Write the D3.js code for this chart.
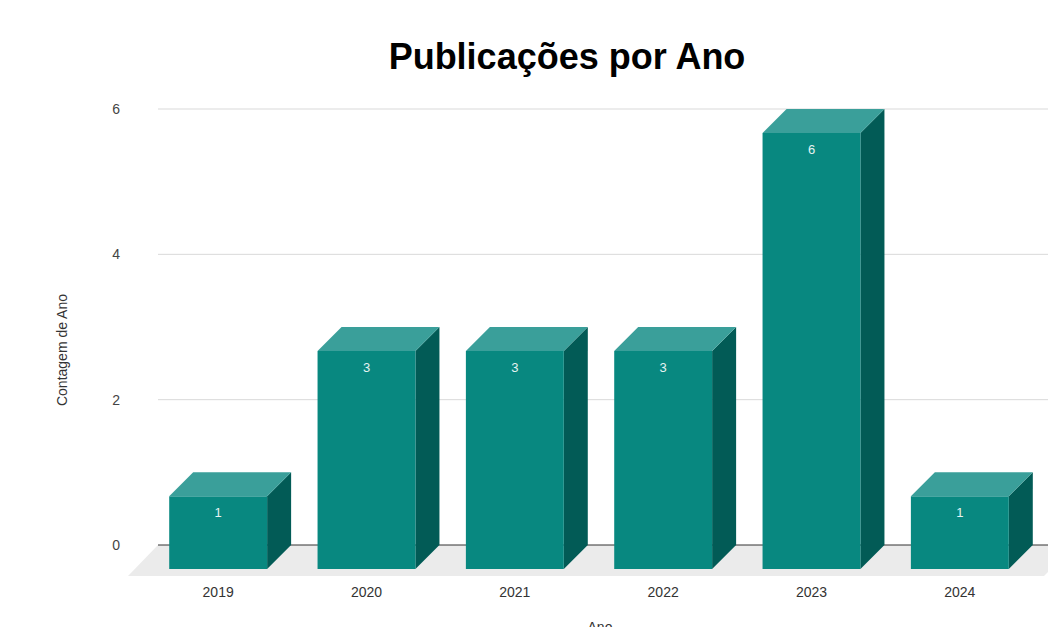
<!DOCTYPE html>
<html>
<head>
<meta charset="utf-8">
<script src="https://cdn.jsdelivr.net/npm/d3@7"></script>
<style>
  body { margin: 0; background: #fff; }
  #vis { width: 1048px; height: 627px; overflow: hidden; }
  text { font-family: "Liberation Sans", Arial, sans-serif; }
</style>
</head>
<body>
<div id="vis"></div>
<script>
const years = ['2019', '2020', '2021', '2022', '2023', '2024'];
const counts = [1, 3, 3, 3, 6, 1];
const yTicks = [0, 2, 4, 6];

////////////////////////////////////////
////////////// Setup ///////////////////
////////////////////////////////////////

const width = 1048, height = 627;
const depth = 24; // 3d offset for bar side / top

const svg = d3.select('#vis').append('svg')
    .attr('width', width)
    .attr('height', height);

const x = d3.scaleBand()
    .domain(years)
    .range([144, 1034])
    .paddingInner(0.34)
    .paddingOuter(0.17);

// front face scale
const y = d3.scaleLinear()
    .domain([0, 6])
    .range([569, 133]);

const colors = { front: '#088880', top: '#3a9f9a', side: '#025b56' };

////////////////////////////////////////
////////////// Back plane //////////////
////////////////////////////////////////

// floor
svg.append('path')
    .attr('d', `M158,${y(0) - depth} L1075,${y(0) - depth} L1044,${y(0) + 7} L128,${y(0) + 7} Z`)
    .attr('fill', '#ebebeb');

svg.selectAll('.grid')
    .data(yTicks.filter(d => d > 0))
    .join('line')
    .attr('class', 'grid')
    .attr('x1', 158)
    .attr('x2', width)
    .attr('y1', d => y(d) - depth)
    .attr('y2', d => y(d) - depth)
    .attr('stroke', '#d9d9d9')
    .attr('stroke-width', 1);

svg.append('line')
    .attr('x1', 158)
    .attr('x2', width)
    .attr('y1', y(0) - depth)
    .attr('y2', y(0) - depth)
    .attr('stroke', '#333')
    .attr('stroke-width', 1);

svg.selectAll('.ytick')
    .data(yTicks)
    .join('text')
    .attr('class', 'ytick')
    .attr('x', 120)
    .attr('y', d => y(d) - depth + 5)
    .attr('text-anchor', 'end')
    .attr('font-size', 14)
    .attr('fill', '#444')
    .text(d => d);

////////////////////////////////////////
////////////// Bars ////////////////////
////////////////////////////////////////

const bars = svg.selectAll('.bar')
    .data(years.map((yr, i) => ({ year: yr, value: counts[i] })))
    .join('g')
    .attr('class', 'bar');

bars.append('path') // side
    .attr('d', d => {
        const x1 = x(d.year) + x.bandwidth();
        return `M${x1},${y(d.value)} L${x1 + depth},${y(d.value) - depth} L${x1 + depth},${y(0) - depth} L${x1},${y(0)} Z`;
    })
    .attr('fill', colors.side);

bars.append('path') // top
    .attr('d', d => {
        const x0 = x(d.year), x1 = x0 + x.bandwidth(), t = y(d.value);
        return `M${x0},${t} L${x0 + depth},${t - depth} L${x1 + depth},${t - depth} L${x1},${t} Z`;
    })
    .attr('fill', colors.top);

bars.append('rect') // front
    .attr('x', d => x(d.year))
    .attr('y', d => y(d.value))
    .attr('width', x.bandwidth())
    .attr('height', d => y(0) - y(d.value))
    .attr('fill', colors.front);

bars.append('text')
    .attr('x', d => x(d.year) + x.bandwidth() / 2)
    .attr('y', d => y(d.value) + 21)
    .attr('text-anchor', 'middle')
    .attr('font-size', 13)
    .attr('fill', '#e6f3f2')
    .text(d => d.value);

svg.selectAll('.xtick')
    .data(years)
    .join('text')
    .attr('class', 'xtick')
    .attr('x', d => x(d) + x.bandwidth() / 2)
    .attr('y', 597)
    .attr('text-anchor', 'middle')
    .attr('font-size', 14)
    .attr('fill', '#333')
    .text(d => d);

////////////////////////////////////////
////////////// Titles //////////////////
////////////////////////////////////////

svg.append('text')
    .attr('x', 567)
    .attr('y', 69)
    .attr('text-anchor', 'middle')
    .attr('font-size', 36)
    .attr('font-weight', 'bold')
    .attr('fill', '#000')
    .text('Publicações por Ano');

svg.append('text')
    .attr('transform', 'translate(67,350) rotate(-90)')
    .attr('text-anchor', 'middle')
    .attr('font-size', 14)
    .attr('fill', '#333')
    .text('Contagem de Ano');

// x axis title sits at the bottom edge, partly cut off as in the original
svg.append('text')
    .attr('x', 600)
    .attr('y', 632)
    .attr('text-anchor', 'middle')
    .attr('font-size', 14)
    .attr('fill', '#333')
    .text('Ano');
</script>
</body>
</html>
